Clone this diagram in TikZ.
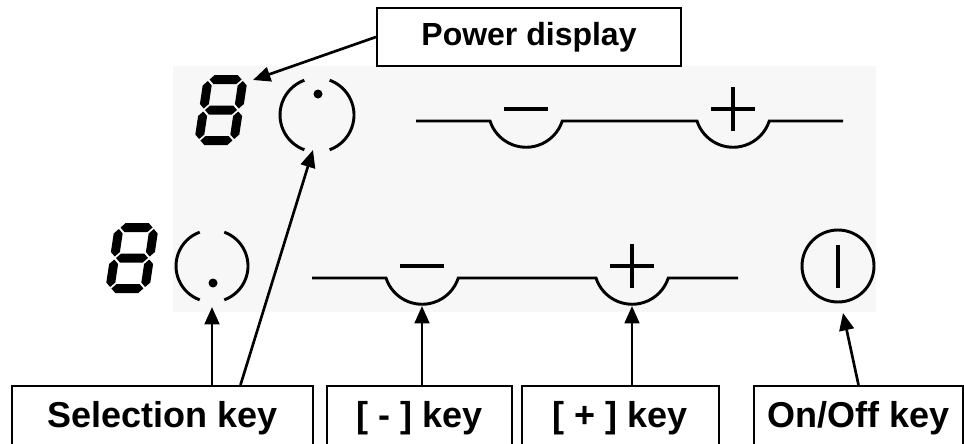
\documentclass[tikz,border=0pt]{standalone}
\usepackage{fontspec}
\setmainfont{Liberation Sans}
\usepackage{tikz}
\usetikzlibrary{arrows.meta,positioning,calc}

\definecolor{panelgray}{HTML}{F7F7F7}

% seven segment "8", centred on the given point
\newcommand{\segdigit}[1]{%
  \begin{scope}[shift={(#1)}, xslant=0.15]
    \foreach \c in {-30.5,0,30.5}
      \fill (-16,\c) -- ++(4.5,-4.5) -- ++(23,0) -- ++(4.5,4.5) -- ++(-4.5,4.5) -- ++(-23,0) -- cycle;
    \foreach \xx in {-17.5,17.5}
      \foreach \yy in {-29,1.5}
        \fill (\xx,\yy) -- ++(4.5,4.5) -- ++(0,18.5) -- ++(-4.5,4.5) -- ++(-4.5,-4.5) -- ++(0,-18.5) -- cycle;
  \end{scope}}

\begin{document}
\begin{tikzpicture}[x=0.75pt, y=-0.75pt,
    label box/.style={draw, line width=1.6pt, fill=white, inner sep=0pt,
      minimum height=64*0.75pt, font=\bfseries\fontsize{27}{32}\selectfont},
    callout/.style={line width=2pt, -{Triangle[length=13pt, width=11pt]}},
    key line/.style={line width=2.2pt},
    sign/.style={line width=3.4pt}]
    \useasboundingbox (0,0) rectangle (964,443);
    \clip (0,0) rectangle (964,443);

    % Panel
    \fill[panelgray] (173,66) rectangle (876,312);

    % Displays
    \segdigit{221,110}
    \segdigit{132,258}

    % Selection keys
    \draw[key line] (317,115) ++(110:37) arc (110:250:37);
    \draw[key line] (317,115) ++(-70:37) arc (-70:70:37);
    \fill (318,94) circle (4.5);
    \draw[key line] (212,266) ++(110:36) arc (110:250:36);
    \draw[key line] (212,266) ++(-70:36) arc (-70:70:36);
    \fill (213,283) circle (4.5);

    % Slider strips
    \draw[key line] (416,121) -- (490,121) arc (162:18:38) -- (697,121) arc (162:18:38) -- (843,121);
    \draw[key line] (312,278) -- (386,278) arc (162:18:38) -- (596,278) arc (162:18:38) -- (738,278);

    % Signs
    \draw[sign] (504,109) -- (548,109);
    \draw[sign] (711,109) -- (755,109);
    \draw[sign] (733,87) -- (733,131);
    \draw[sign] (400,266) -- (444,266);
    \draw[sign] (610,266) -- (654,266);
    \draw[sign] (632,244) -- (632,288);

    % On/Off key
    \draw[key line] (838,266) circle (36);
    \draw[sign] (838,245) -- (838,288);

    % Labels
    \node[label box, minimum width=304*0.75pt, minimum height=58*0.75pt,
      font=\bfseries\fontsize{24}{28}\selectfont] (powerbox) at (529,37) {Power display};
    \node[label box, minimum width=301*0.75pt] (selbox) at (162.5,418) {Selection key};
    \node[label box, minimum width=185*0.75pt] (minusbox) at (419.5,418) {[ - ] key};
    \node[label box, minimum width=197*0.75pt] (plusbox) at (620.5,418) {[ + ] key};
    \node[label box, minimum width=209*0.75pt] (onoffbox) at (858.5,418) {On/Off key};

    % Arrow targets
    \coordinate (digittop) at (253,80);
    \coordinate (seltop) at (313,150);
    \coordinate (selbot) at (212,307);
    \coordinate (minusbot) at (422,306);
    \coordinate (plusbot) at (632,306);
    \coordinate (onoffbot) at (843,313);

    % Arrows
    \draw[callout] (powerbox.west) -- (digittop);
    \draw[callout] ($(selbox.north)+(78,0)$) -- (seltop);
    \draw[callout] (selbox.north -| selbot) -- (selbot);
    \draw[callout] (minusbox.north -| minusbot) -- (minusbot);
    \draw[callout] (plusbox.north -| plusbot) -- (plusbot);
    \draw[callout] (onoffbox.north) -- (onoffbot);
\end{tikzpicture}
\end{document}
